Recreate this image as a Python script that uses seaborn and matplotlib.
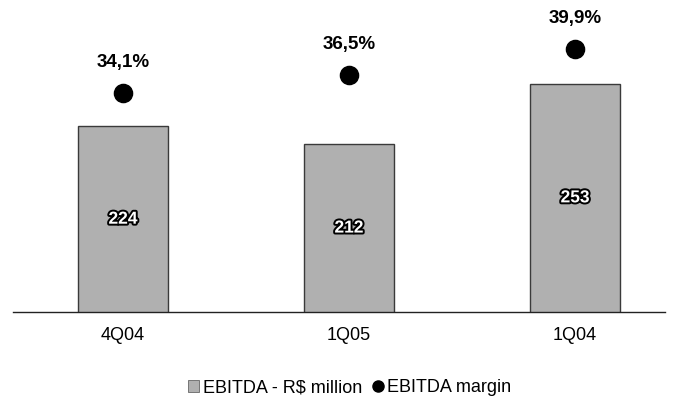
import matplotlib
matplotlib.use("Agg")
import matplotlib.pyplot as plt
import matplotlib.patheffects as pe
from matplotlib.lines import Line2D
from matplotlib.patches import Patch
import seaborn as sns
import pandas as pd

quarters = ["4Q04", "1Q05", "1Q04"]
ebitda = [224, 212, 253]
margin = [34.1, 36.5, 39.9]
margin_labels = ["34,1%", "36,5%", "39,9%"]

sns.set_theme(style="white")
plt.rcParams["font.family"] = ["Liberation Sans", "DejaVu Sans"]
plt.rcParams["text.color"] = "black"
plt.rcParams["xtick.color"] = "black"

df = pd.DataFrame({"quarter": quarters, "ebitda": ebitda, "margin": margin})

fig = plt.figure(figsize=(6.73, 4.04), dpi=100)
ax = fig.add_axes([0.0193, 0.2277, 0.969, 0.7475])

sns.barplot(data=df, x="quarter", y="ebitda", ax=ax, color="#b0b0b0",
            width=0.40, saturation=1, edgecolor="#3a3a3a", linewidth=1.0)
ax.set_ylim(98, 303)
ax.set_xlim(-0.487, 2.398)

for i, v in enumerate(ebitda):
    ax.text(i, (98 + v) / 2, str(v), ha="center", va="center", color="white",
            fontsize=12.5, fontweight="bold",
            path_effects=[pe.withStroke(linewidth=2.8, foreground="black")])

ax2 = ax.twinx()
sns.scatterplot(data=df, x="quarter", y="margin", ax=ax2, color="black",
                s=170, edgecolor="black", legend=False, zorder=5)
ax2.set_ylim(5.3, 45.0)
ax2.set_xlim(-0.487, 2.398)
for i, (m, lab) in enumerate(zip(margin, margin_labels)):
    ax2.annotate(lab, (i, m), xytext=(0, 22), textcoords="offset points",
                 ha="center", va="center", fontsize=13.5, fontweight="bold",
                 color="black")

for a in (ax, ax2):
    for s in ["top", "left", "right"]:
        a.spines[s].set_visible(False)
    a.set_xlabel("")
    a.set_ylabel("")
    a.set_yticks([])
ax2.spines["bottom"].set_visible(False)
ax.spines["bottom"].set_color("#222222")
ax.spines["bottom"].set_linewidth(1.0)
ax.tick_params(axis="x", length=0, labelsize=13, pad=11, labelcolor="black")

handles = [Patch(facecolor="#b0b0b0", edgecolor="#666666", linewidth=0.6),
           Line2D([], [], marker="o", linestyle="", color="black", markersize=8)]
fig.legend(handles, ["EBITDA - R$ million", "EBITDA margin"], loc="center",
           bbox_to_anchor=(0.52, 0.04), ncol=2, frameon=False, fontsize=13,
           handlelength=0.6, handleheight=0.6, handletextpad=0.2, columnspacing=0.6,
           labelcolor="black")

fig.savefig("out.png", dpi=100)
